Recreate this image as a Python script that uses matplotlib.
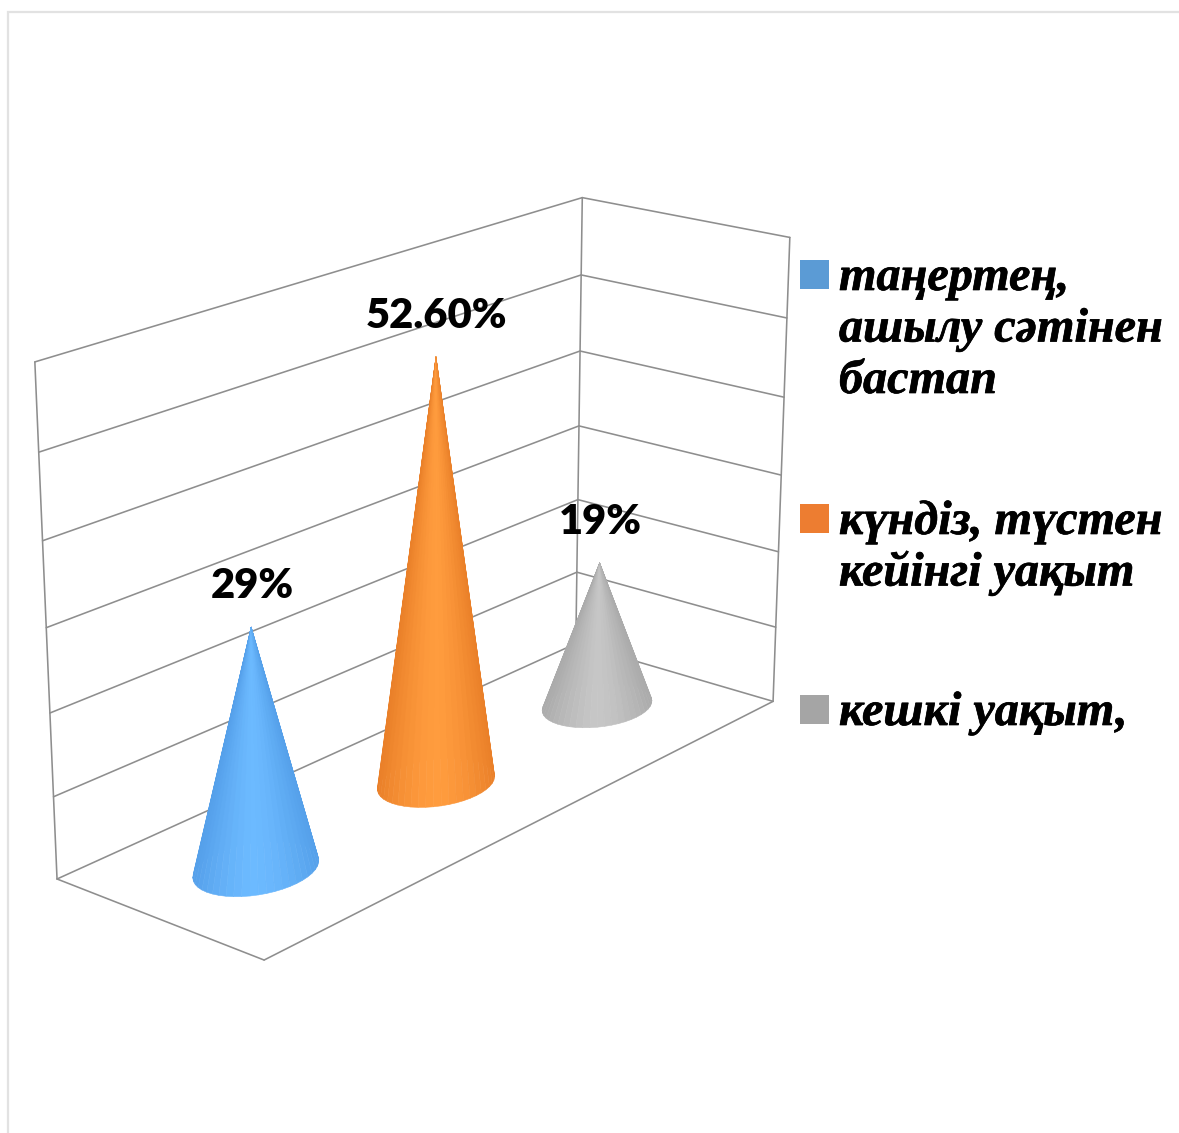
import numpy as np
import matplotlib
matplotlib.use("Agg")
import matplotlib.pyplot as plt
import matplotlib.patheffects as pe
from matplotlib.collections import PolyCollection
from matplotlib.patches import Rectangle

# ---- data ----
categories = ["таңертең,\nашылу сәтінен\nбастап", "күндіз, түстен\nкейінгі уақыт", "кешкі уақыт,"]
values = [29, 52.6, 19]
value_labels = ["29%", "52.60%", "19%"]
axis_ticks = [0, 10, 20, 30, 40, 50, 60]

# ---- styles ----
legend_colors = ["#5B9BD5", "#ED7D31", "#A5A5A5"]
cone_mid = ["#6CBAFF", "#FF9C3E", "#C6C6C6"]
cone_edge = ["#55A0EA", "#EA8029", "#ABABAB"]
legend_top = [260, 504, 695]
GRID = "#8E8E8E"
W, H = 1179, 1133

# camera fitted to the box corners of the 3-D chart (pixels)
world = np.array([[0, 0, 0], [3, 0, 0], [0, 1, 0], [3, 1, 0],
                  [0, 1, 60], [3, 1, 60], [3, 0, 60]], float)
image = np.array([[264, 961], [773, 700], [57, 878], [576, 645],
                  [35, 362], [582, 197], [790, 238]], float)
A = []
for (X, Y, Z), (u, v) in zip(world, image):
    A.append([X, Y, Z, 1, 0, 0, 0, 0, -u*X, -u*Y, -u*Z, -u])
    A.append([0, 0, 0, 0, X, Y, Z, 1, -v*X, -v*Y, -v*Z, -v])
P = np.linalg.svd(np.array(A))[2][-1].reshape(3, 4)


def proj(x, y, z):
    x, y, z = np.broadcast_arrays(np.asarray(x, float), np.asarray(y, float), np.asarray(z, float))
    h = P @ np.stack([x.ravel(), y.ravel(), z.ravel(), np.ones(x.size)])
    return (h[:2] / h[2]).T.reshape(x.shape + (2,))


fig = plt.figure(figsize=(W/100, H/100), dpi=100)
ax = fig.add_axes([0, 0, 1, 1])
ax.set_xlim(0, W)
ax.set_ylim(H, 0)
ax.axis("off")

# outer chart frame
ax.plot([8, 8, W], [H, 12, 12], color="#E2E2E2", lw=1.6, solid_joinstyle="miter")


def seg(a, b):
    p = proj(*np.array([a, b]).T)
    ax.plot(p[:, 0], p[:, 1], color=GRID, lw=1.15, zorder=1, solid_capstyle="round")


for t in axis_ticks:
    seg((0, 1, t), (3, 1, t))
    seg((3, 1, t), (3, 0, t))
top = axis_ticks[-1]
seg((0, 1, 0), (0, 1, top))
seg((3, 1, 0), (3, 1, top))
seg((3, 0, 0), (3, 0, top))
seg((0, 1, 0), (0, 0, 0))
seg((0, 0, 0), (3, 0, 0))

# cones
RX, RY = 0.255, 0.195
CX_OFF, CY = 0.516, 0.516
th = np.linspace(0, 2*np.pi, 49)


def hex2rgb(c):
    return np.array(matplotlib.colors.to_rgb(c))


for i in [2, 1, 0]:
    v = values[i]
    cx = i + CX_OFF
    bx, by = cx + RX*np.cos(th), CY + RY*np.sin(th)
    base = proj(bx, by, 0*th)
    apex = proj(cx, CY, v)
    c0 = proj(cx, CY, 0)
    half = (base[:, 0].max() - base[:, 0].min()) / 2
    polys, cols = [], []
    for k in range(len(th)-1):
        polys.append([base[k], base[k+1], apex])
        mx = (base[k, 0] + base[k+1, 0]) / 2
        s = min(1, abs(mx - c0[0]) / half) ** 1.6
        cols.append((1-s)*hex2rgb(cone_mid[i]) + s*hex2rgb(cone_edge[i]))
    # draw the far side first
    idx = np.argsort([-(by[k] + by[k+1]) for k in range(len(th)-1)])
    ax.add_collection(PolyCollection([polys[j] for j in idx], facecolors=[cols[j] for j in idx],
                                     edgecolors=[cols[j] for j in idx], linewidths=0.4, zorder=3))
    ax.text(apex[0] + 1, apex[1] - 41, value_labels[i], ha="center", va="center",
            fontsize=30, fontweight="heavy", family="Lato", color="black", zorder=5)

# legend
for name, col, y0 in zip(categories, legend_colors, legend_top):
    ax.add_patch(Rectangle((800, y0), 29, 29, facecolor=col, edgecolor="none"))
    for j, line in enumerate(name.split("\n")):
        ax.text(839, y0 + 30 + j*51.5, line, ha="left", va="baseline", fontsize=34.7,
                family="Liberation Serif", style="italic", fontweight="bold", color="black",
                path_effects=[pe.withStroke(linewidth=0.5, foreground="black")])

fig.savefig("out.png", dpi=100, facecolor="white")
